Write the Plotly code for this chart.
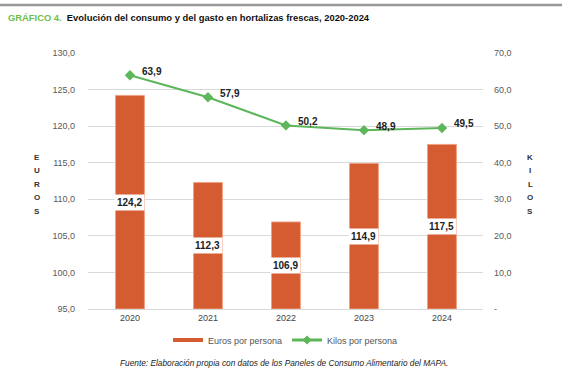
import plotly.graph_objects as go

years = ["2020", "2021", "2022", "2023", "2024"]
euros = [124.2, 112.3, 106.9, 114.9, 117.5]
kilos = [63.9, 57.9, 50.2, 48.9, 49.5]
euro_ticks = [95, 100, 105, 110, 115, 120, 125, 130]
kilo_ticks = [0, 10, 20, 30, 40, 50, 60, 70]

BAR = "#D55B30"
GREEN = "#5DB65A"
FONT = "Liberation Sans, Arial, sans-serif"

# plot area in pixels (for converting page positions to paper coords)
L, R, T, B = 88, 483, 53, 309
def px(x):
    return (x - L) / (R - L)
def py(y):
    return (B - y) / (B - T)

def fmt(v):
    return f"{v:.1f}".replace(".", ",")

fig = go.Figure()
fig.add_trace(go.Bar(x=years, y=[v - 95 for v in euros], base=95, width=0.37,
                     marker=dict(color=BAR, line=dict(color="#F0A080", width=1)),
                     showlegend=False, yaxis="y", hoverinfo="skip"))
fig.add_trace(go.Scatter(x=years, y=kilos, yaxis="y2", mode="lines+markers",
                         line=dict(color=GREEN, width=2), marker=dict(symbol="diamond", size=8, color=GREEN),
                         showlegend=False))
# legend entries
fig.add_trace(go.Scatter(x=[years[0]], y=[None], mode="lines", line=dict(color=BAR, width=4),
                         name="Euros por persona"))
fig.add_trace(go.Scatter(x=[years[0]], y=[None], mode="lines+markers", line=dict(color=GREEN, width=3),
                         marker=dict(symbol="diamond", size=7, color=GREEN), name="Kilos por persona",
                         yaxis="y2"))

for i, v in enumerate(kilos):
    fig.add_annotation(x=i, y=v, xref="x", yref="y2", text=f"<b>{fmt(v)}</b>", showarrow=False,
                       xanchor="left", yanchor="middle", xshift=10, yshift=4,
                       font=dict(family=FONT, size=10, color="#222222"))

for i, v in enumerate(euros):
    fig.add_annotation(x=i, y=(95 + v) / 2, xref="x", yref="y", text=f"<b>{fmt(v)}</b>", showarrow=False,
                       bgcolor="white", font=dict(family=FONT, size=10, color="#222222"), borderpad=2)

for k, ch in enumerate("EUROS"):
    fig.add_annotation(x=px(37), y=py(157 + 13.5 * k), xref="paper", yref="paper", text=f"<b>{ch}</b>",
                       showarrow=False, font=dict(family=FONT, size=8, color="#333333"),
                       xanchor="center", yanchor="middle")
for k, ch in enumerate("KILOS"):
    fig.add_annotation(x=px(530), y=py(157 + 13.5 * k), xref="paper", yref="paper", text=f"<b>{ch}</b>",
                       showarrow=False, font=dict(family=FONT, size=8, color="#333333"),
                       xanchor="center", yanchor="middle")

fig.add_annotation(x=px(6), y=py(17), xref="paper", yref="paper",
                   text="<span style='color:#6DBE45'>GRÁFICO 4.</span>  Evolución del consumo y del gasto en hortalizas frescas, 2020-2024",
                   showarrow=False, xanchor="left", yanchor="middle",
                   font=dict(family=FONT, size=9.4, color="#111111", weight="bold"))
fig.add_annotation(x=px(284), y=py(363), xref="paper", yref="paper",
                   text="<i>Fuente: Elaboración propia con datos de los Paneles de Consumo Alimentario del MAPA.</i>",
                   showarrow=False, xanchor="center", yanchor="middle",
                   font=dict(family=FONT, size=8.3, color="#222222"))
fig.add_shape(type="line", xref="paper", yref="paper", x0=px(0), x1=px(562), y0=py(5), y1=py(5),
              line=dict(color="#999999", width=2.5), layer="above")

fig.update_layout(
    width=567, height=381,
    margin=dict(l=L, r=567 - R, t=T, b=381 - B, autoexpand=False),
    paper_bgcolor="white", plot_bgcolor="white",
    font=dict(family=FONT, size=9, color="#595959"),
    xaxis=dict(type="category", categoryorder="array", categoryarray=years, range=[-0.538, 4.526],
               showgrid=False, showline=True, linecolor="#D9D9D9", ticks="",
               tickfont=dict(size=9, color="#444444")),
    yaxis=dict(range=[95, 130], tickvals=euro_ticks, ticktext=[fmt(v) for v in euro_ticks],
               showgrid=True, gridcolor="#D9D9D9", zeroline=False, ticklabelstandoff=12),
    yaxis2=dict(range=[0, 70], overlaying="y", side="right", tickvals=kilo_ticks,
                ticktext=["-"] + [fmt(v) for v in kilo_ticks[1:]], showgrid=False, zeroline=False,
                ticklabelstandoff=10),
    legend=dict(orientation="h", x=0.5, xanchor="center", y=1 - 340 / 381, yanchor="middle", yref="container",
                font=dict(size=9, color="#555555"), traceorder="normal"),
    bargap=0.63,
)
fig.write_html("out.html", config={"displayModeBar": False},
               post_script="document.body.style.margin='0';")
